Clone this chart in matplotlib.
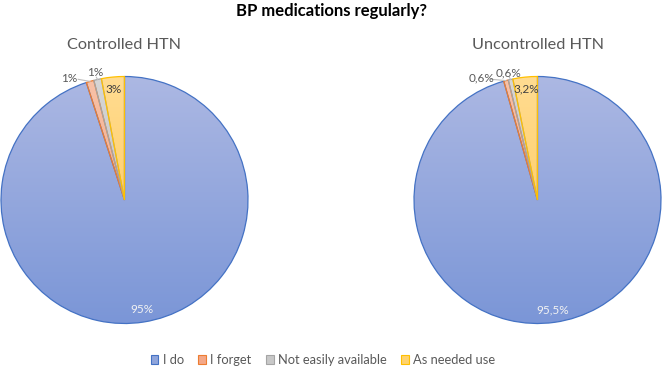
import numpy as np
import matplotlib
matplotlib.use("Agg")
import matplotlib.pyplot as plt
from matplotlib.colors import LinearSegmentedColormap
from matplotlib.patches import Patch

plt.rcParams['font.family'] = ['Lato', 'DejaVu Sans']

categories = ['I do', 'I forget', 'Not easily available', 'As needed use']
controlled = [95, 1, 1, 3]
uncontrolled = [95.5, 0.6, 0.6, 3.2]
titles = ['Controlled HTN', 'Uncontrolled HTN']

# gradient (top, bottom) and edge colour per slice
grads = [('#ACB8E3', '#7B96D7'), ('#F8C2A8', '#F19A72'),
         ('#D6D6D6', '#B8B8B8'), ('#FFDC92', '#FFC44A')]
edges = ['#4472C4', '#ED7D31', '#A5A5A5', '#FFC000']
legend_cols = ['#8FA5DC', '#F4A888', '#C8C8C8', '#FFD36E']

# outside label positions (radius, angle) for the two thin slices
outside = {1: (1.085, 114.5), 2: (1.056, 103.0)}


def fmt(v):
    return f"{v:g}".replace('.', ',') + '%'


def draw_pie(ax, values):
    wedges, _ = ax.pie(values, startangle=90, counterclock=False, radius=1,
                       wedgeprops=dict(linewidth=0.9))
    grad = np.linspace(0, 1, 256).reshape(-1, 1)
    for w, (top, bot), ec in zip(wedges, grads, edges):
        w.set_facecolor('none')
        w.set_edgecolor(ec)
        cmap = LinearSegmentedColormap.from_list('g', [bot, top])
        im = ax.imshow(grad, cmap=cmap, extent=(-1, 1, -1, 1), origin='lower',
                       aspect='auto', zorder=w.get_zorder() - 0.5)
        im.set_clip_path(w)
    ax.set_aspect('equal')
    ax.set_xlim(-1, 1)
    ax.set_ylim(-1, 1)
    ax.axis('off')

    for i, (w, v) in enumerate(zip(wedges, values)):
        mid = np.deg2rad((w.theta1 + w.theta2) / 2)
        if i in outside:
            r, a = outside[i]
            a = np.deg2rad(a)
            tx, ty = r * np.cos(a), r * np.sin(a)
            ax.text(tx, ty, fmt(v), ha='center', va='center', fontsize=8.5,
                    color='#595959')
            ex, ey = np.cos(mid), np.sin(mid)
            if i == 1:
                sx, sy = tx + 0.075, ty - 0.01
            else:
                sx, sy = tx + 0.01, ty - 0.035
            ax.plot([sx, ex], [sy, ey], color='#BFBFBF', lw=0.8, clip_on=False)
        else:
            col = '#F2F2F2' if i == 0 else '#404040'
            ax.text(0.9 * np.cos(mid), 0.9 * np.sin(mid), fmt(v), ha='center',
                    va='center', fontsize=8.5, color=col)


fig = plt.figure(figsize=(6.62, 3.67), dpi=100)
W, H = 662, 367
R = 123.5
for cx, vals, t in [(124.5, controlled, titles[0]), (537.5, uncontrolled, titles[1])]:
    ax = fig.add_axes([(cx - R) / W, (H - 200 - R) / H, 2 * R / W, 2 * R / H])
    draw_pie(ax, vals)
    fig.text(cx / W, 1 - 45 / H, t, ha='center', va='center', fontsize=11.7,
             color='#595959')

fig.text(0.5, 1 - 11 / H, 'BP medications regularly?', ha='center', va='center',
         fontsize=12, fontweight='bold', color='black')

handles = [Patch(facecolor=c, edgecolor=e, lw=0.8) for c, e in zip(legend_cols, edges)]
fig.legend(handles, categories, loc='center', bbox_to_anchor=(323 / W, 1 - 360 / H),
           ncol=4, frameon=False, fontsize=9.3, handlelength=0.6, handleheight=0.6,
           handletextpad=0.35, columnspacing=1.1, labelcolor='#595959')

fig.savefig('out.png', dpi=100)
